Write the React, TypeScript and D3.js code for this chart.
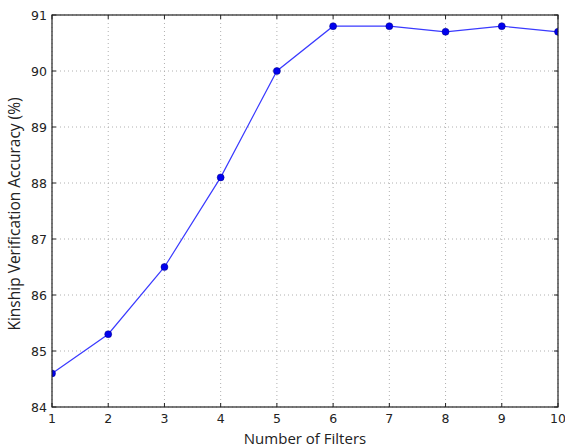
import * as d3 from "d3";
import { useEffect, useRef } from "react";

const filters = [1, 2, 3, 4, 5, 6, 7, 8, 9, 10];
const accuracy = [84.6, 85.3, 86.5, 88.1, 90.0, 90.8, 90.8, 90.7, 90.8, 90.7];
const yTicks = [84, 85, 86, 87, 88, 89, 90, 91];

const App = () => {
  const ref = useRef<SVGSVGElement>(null);

  useEffect(() => {
    const svg = d3.select(ref.current);
    svg.selectAll("*").remove();

    // plot area
    const left = 52, top = 15, right = 558, bottom = 407;
    const x = d3.scaleLinear().domain([1, 10]).range([left, right]);
    const y = d3.scaleLinear().domain([84, 91]).range([bottom, top]);
    const font = "DejaVu Sans, sans-serif";
    const labelFont = "Open Sans, sans-serif";

    svg.append("rect")
      .attr("x", 0).attr("y", 0).attr("width", 565).attr("height", 447)
      .attr("fill", "white");

    svg.append("clipPath").attr("id", "plotclip")
      .append("rect")
      .attr("x", left).attr("y", top)
      .attr("width", right - left).attr("height", bottom - top);

    // grid
    const grid = svg.append("g")
      .attr("stroke", "#b0b0b0").attr("stroke-width", 1)
      .attr("stroke-dasharray", "1,3");
    filters.forEach((f) => {
      grid.append("line")
        .attr("x1", x(f)).attr("x2", x(f))
        .attr("y1", top).attr("y2", bottom);
    });
    yTicks.forEach((t) => {
      grid.append("line")
        .attr("x1", left).attr("x2", right)
        .attr("y1", y(t)).attr("y2", y(t));
    });

    // line and markers
    const data = filters.map((f, i) => ({ f, v: accuracy[i] }));
    const line = d3.line<{ f: number; v: number }>()
      .x((d) => x(d.f))
      .y((d) => y(d.v));
    const plot = svg.append("g").attr("clip-path", "url(#plotclip)");
    plot.append("path")
      .datum(data)
      .attr("fill", "none")
      .attr("stroke", "#3a3aff")
      .attr("stroke-width", 1.2)
      .attr("d", line);
    plot.selectAll("circle")
      .data(data)
      .enter().append("circle")
      .attr("cx", (d) => x(d.f))
      .attr("cy", (d) => y(d.v))
      .attr("r", 3.5)
      .attr("fill", "#0000ee")
      .attr("stroke", "#000080")
      .attr("stroke-width", 0.5);

    // frame
    svg.append("rect")
      .attr("x", left).attr("y", top)
      .attr("width", right - left).attr("height", bottom - top)
      .attr("fill", "none").attr("stroke", "#222").attr("stroke-width", 1.2);

    // ticks (inward, all four sides)
    const ticks = svg.append("g").attr("stroke", "#222").attr("stroke-width", 1);
    filters.forEach((f) => {
      ticks.append("line").attr("x1", x(f)).attr("x2", x(f)).attr("y1", bottom).attr("y2", bottom - 4);
      ticks.append("line").attr("x1", x(f)).attr("x2", x(f)).attr("y1", top).attr("y2", top + 4);
    });
    yTicks.forEach((t) => {
      ticks.append("line").attr("x1", left).attr("x2", left + 4).attr("y1", y(t)).attr("y2", y(t));
      ticks.append("line").attr("x1", right).attr("x2", right - 4).attr("y1", y(t)).attr("y2", y(t));
    });

    // tick labels
    svg.append("g").selectAll("text")
      .data(filters)
      .enter().append("text")
      .attr("x", (d) => x(d))
      .attr("y", bottom + 16)
      .attr("text-anchor", "middle")
      .attr("font-family", font)
      .attr("font-size", 12.5)
      .attr("fill", "#222")
      .text((d) => d);

    svg.append("g").selectAll("text")
      .data(yTicks)
      .enter().append("text")
      .attr("x", left - 5)
      .attr("y", (d) => y(d) + 4.5)
      .attr("text-anchor", "end")
      .attr("font-family", font)
      .attr("font-size", 12.5)
      .attr("fill", "#222")
      .text((d) => d);

    // axis labels
    svg.append("text")
      .attr("x", 305)
      .attr("y", 444)
      .attr("text-anchor", "middle")
      .attr("font-family", labelFont)
      .attr("font-size", 15)
      .attr("fill", "#222")
      .text("Number of Filters");

    svg.append("text")
      .attr("transform", `translate(20, 214) rotate(-90)`)
      .attr("text-anchor", "middle")
      .attr("font-family", labelFont)
      .attr("font-size", 15.5)
      .attr("fill", "#222")
      .text("Kinship Verification Accuracy (%)");
  }, []);

  return (
    <svg ref={ref} width={565} height={447}
      style={{ position: "absolute", left: 0, top: 0 }} />
  );
};

export default App;
